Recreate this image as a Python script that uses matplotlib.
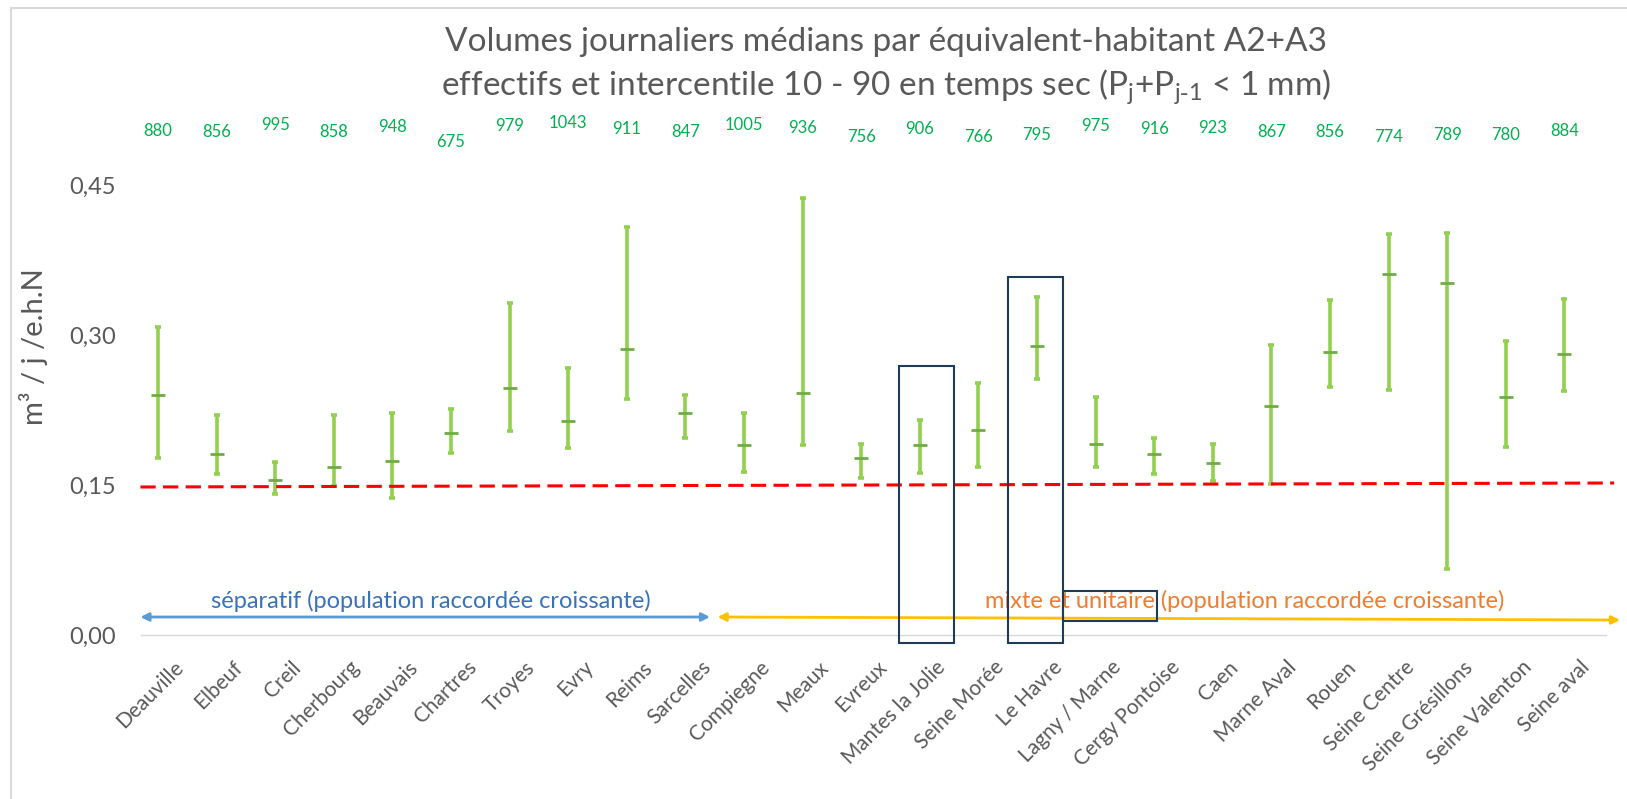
import matplotlib
matplotlib.use("Agg")
import matplotlib.pyplot as plt
from matplotlib.patches import Rectangle
from matplotlib.ticker import FuncFormatter, FixedLocator
from matplotlib.lines import Line2D

plt.rcParams['font.family'] = ['Lato', 'DejaVu Sans']

# ---------------- data ----------------
stations = ["Deauville", "Elbeuf", "Creil", "Cherbourg", "Beauvais", "Chartres", "Troyes",
            "Evry", "Reims", "Sarcelles", "Compiegne", "Meaux", "Evreux", "Mantes la Jolie",
            "Seine Morée", "Le Havre", "Lagny / Marne", "Cergy Pontoise", "Caen", "Marne Aval",
            "Rouen", "Seine Centre", "Seine Grésillons", "Seine Valenton", "Seine aval"]
p10 = [0.177, 0.161, 0.141, 0.149, 0.137, 0.182, 0.204, 0.187, 0.236, 0.197, 0.163, 0.190,
       0.157, 0.162, 0.168, 0.256, 0.168, 0.161, 0.154, 0.151, 0.248, 0.245, 0.066, 0.188, 0.244]
median = [0.240, 0.181, 0.155, 0.168, 0.174, 0.202, 0.247, 0.214, 0.286, 0.222, 0.190, 0.242,
          0.177, 0.190, 0.205, 0.289, 0.191, 0.181, 0.172, 0.229, 0.283, 0.361, 0.352, 0.238, 0.281]
p90 = [0.308, 0.220, 0.173, 0.220, 0.222, 0.226, 0.332, 0.267, 0.408, 0.240, 0.222, 0.437,
       0.191, 0.215, 0.252, 0.338, 0.238, 0.197, 0.191, 0.290, 0.335, 0.401, 0.402, 0.294, 0.336]
effectifs = [880, 856, 995, 858, 948, 675, 979, 1043, 911, 847, 1005, 936, 756, 906, 766, 795,
             975, 916, 923, 867, 856, 774, 789, 780, 884]
# vertical placement of the count labels (as in the reference)
label_y = [0.504, 0.503, 0.510, 0.503, 0.508, 0.493, 0.509, 0.512, 0.506, 0.503, 0.510, 0.507,
           0.498, 0.506, 0.498, 0.500, 0.509, 0.506, 0.507, 0.503, 0.503, 0.498, 0.500, 0.500, 0.504]
yticks = [0.0, 0.15, 0.30, 0.45]
threshold_start, threshold_end = 0.148, 0.152

title = ("Volumes journaliers médians par équivalent-habitant A2+A3\n"
         "effectifs et intercentile 10 - 90 en temps sec (P$_\\mathregular{j}$+P$_\\mathregular{j\\text{-}1}$ < 1 mm)")

# ---------------- figure ----------------
W, H = 1627, 799
fig = plt.figure(figsize=(W / 100, H / 100), dpi=100)
ax = fig.add_axes([141 / W, (H - 635) / H, (1606 - 141) / W, 520 / H])
ax.set_xlim(-0.29, 24.71)
ax.set_ylim(0, 0.52)

x = list(range(len(stations)))
bar_color = "#92D050"
med_color = "#6FAC46"
lower = [m - a for m, a in zip(median, p10)]
upper = [b - m for m, b in zip(median, p90)]
ax.errorbar(x, median, yerr=[lower, upper], fmt='none', ecolor=bar_color,
            elinewidth=2.6, capsize=2.5, capthick=2.6, zorder=3)
ax.scatter(x, median, marker='_', s=110, color=med_color, linewidths=2.0, zorder=4)

# threshold line
ax.add_line(Line2D([-0.3, 24.85], [threshold_start, threshold_end], color="#FF0000",
                   lw=2.2, linestyle=(0, (5, 2.4)), clip_on=False, zorder=5))

# counts
for xi, n, yy in zip(x, effectifs, label_y):
    ax.text(xi, yy, str(n), color="#00B050", fontsize=12, ha='center', va='center',
            clip_on=False)

# axes styling
for s in ['left', 'right', 'top']:
    ax.spines[s].set_visible(False)
ax.spines['bottom'].set_color('#D9D9D9')
ax.spines['bottom'].set_linewidth(1.0)
ax.yaxis.set_major_locator(FixedLocator(yticks))
ax.yaxis.set_major_formatter(FuncFormatter(lambda v, p: f"{v:.2f}".replace('.', ',')))
ax.tick_params(axis='y', length=0, labelsize=17, labelcolor='#595959', pad=18)
ax.set_xticks(x)
ax.set_xticklabels([])
ax.tick_params(axis='x', length=0)
for xi, name in zip(x, stations):
    ax.annotate(name, xy=(xi, 0), xycoords='data', xytext=(11, -16), textcoords='offset points',
                rotation=45, ha='right', va='top', rotation_mode='anchor',
                fontsize=15, color='#595959', annotation_clip=False)

ax.set_ylabel("m³ / j /e.h.N", fontsize=21, color='#595959', va='center')
ax.yaxis.set_label_coords(-0.0737, 0.554)

# title
fig.text(886 / W, 1 - 67 / H, title, ha='center', va='center', fontsize=24,
         color='#595959', linespacing=1.4)

# bracket arrows + captions
ax.annotate('', xy=(-0.3, 0.018), xytext=(9.42, 0.018),
            arrowprops=dict(arrowstyle='<|-|>', color='#5B9BD5', lw=2, mutation_scale=12,
                            shrinkA=0, shrinkB=0), annotation_clip=False)
ax.annotate('', xy=(24.95, 0.015), xytext=(9.55, 0.018),
            arrowprops=dict(arrowstyle='<|-|>', color='#FFC000', lw=2, mutation_scale=12,
                            shrinkA=0, shrinkB=0), annotation_clip=False)
ax.text(4.65, 0.034, "séparatif (population raccordée croissante)", color='#3A72B8',
        fontsize=17, ha='center', va='center')
ax.text(18.55, 0.034, "mixte et unitaire (population raccordée croissante)", color='#ED7D31',
        fontsize=17, ha='center', va='center')

# highlight boxes
box_color = '#1F3B57'
for x0, x1, y1 in [(12.64, 13.59, 0.269), (14.5, 15.45, 0.358)]:
    ax.add_patch(Rectangle((x0, -0.008), x1 - x0, y1 + 0.008, fill=False, ec=box_color,
                           lw=1.5, clip_on=False, zorder=6))
ax.add_patch(Rectangle((15.45, 0.0145), 1.6, 0.030, fill=False, ec=box_color, lw=1.5,
                       clip_on=False, zorder=6))

# chart border (light gray, top and left visible)
fig.add_artist(Line2D([11 / W, 1.0], [1 - 8 / H, 1 - 8 / H], color='#D9D9D9', lw=1.5,
                      transform=fig.transFigure))
fig.add_artist(Line2D([11 / W, 11 / W], [0, 1 - 8 / H], color='#D9D9D9', lw=1.5,
                      transform=fig.transFigure))

fig.savefig("out.png", dpi=100)
